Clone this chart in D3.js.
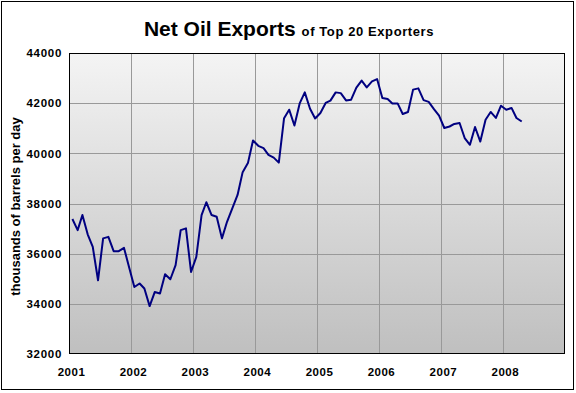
<!DOCTYPE html>
<html>
<head>
<meta charset="utf-8">
<script src="https://cdn.jsdelivr.net/npm/d3@7"></script>
<style>
  html, body { margin: 0; padding: 0; background: #fff; }
  svg { display: block; }
  text { font-family: "Liberation Sans", Arial, sans-serif; font-weight: bold; fill: #000; }
</style>
</head>
<body>
<svg id="chart" width="576" height="393"></svg>
<script>
// ---- data (monthly, Jan 2001 .. Apr 2008), thousands of barrels per day ----
const startYear = 2001;
const values2001 = [37380, 36940, 37540, 36770, 36270, 34940, 36610, 36670, 36100, 36100, 36230, 35460];
const values2002 = [34670, 34810, 34610, 33910, 34470, 34410, 35180, 34980, 35540, 36940, 37010, 35270];
const values2003 = [35870, 37540, 38050, 37540, 37470, 36610, 37270, 37810, 38340, 39250, 39610, 40510];
const values2004 = [40300, 40210, 39940, 39830, 39630, 41400, 41740, 41110, 41990, 42430, 41780, 41390];
const values2005 = [41610, 42010, 42100, 42430, 42400, 42110, 42140, 42620, 42900, 42630, 42870, 42960];
const values2006 = [42210, 42170, 41990, 41990, 41570, 41650, 42540, 42590, 42120, 42050, 41760, 41500];
const values2007 = [41010, 41070, 41170, 41210, 40610, 40340, 41050, 40470, 41340, 41650, 41410, 41900];
const values2008 = [41740, 41810, 41410, 41270];
const yTicks = [32000, 34000, 36000, 38000, 40000, 42000, 44000];
const yearLabels = ["2001", "2002", "2003", "2004", "2005", "2006", "2007", "2008"];
const titleMain = "Net Oil Exports";
const titleSub = "of Top 20 Exporters";
const yTitle = "thousands of barrels per day";

const allValues = [].concat(values2001, values2002, values2003, values2004,
                            values2005, values2006, values2007, values2008);
const series = allValues.map((v, i) => ({ date: new Date(startYear, i, 21), value: v }));

// ---- layout ----
const svg = d3.select("#chart");
const L = 69, R = 565, T = 53, B = 354;

const x = d3.scaleTime()
  .domain([new Date(2001, 0, 1), new Date(2009, 0, 1)])
  .range([L, R]);
const y = d3.scaleLinear().domain([32000, 44000]).range([B, T]);

// outer border
svg.append("rect")
  .attr("x", 1.5).attr("y", 1.5).attr("width", 572).attr("height", 388)
  .attr("fill", "#fff").attr("stroke", "#000").attr("stroke-width", 1);

// gradient for plot area
const defs = svg.append("defs");
const grad = defs.append("linearGradient").attr("id", "bg")
  .attr("x1", 0).attr("y1", 0).attr("x2", 0).attr("y2", 1);
grad.append("stop").attr("offset", "0%").attr("stop-color", "#f4f4f4");
grad.append("stop").attr("offset", "100%").attr("stop-color", "#bfbfbf");

svg.append("rect")
  .attr("x", L).attr("y", T).attr("width", R - L).attr("height", B - T)
  .attr("fill", "url(#bg)");

// gridlines
const yearDates = yearLabels.map(s => new Date(+s, 0, 1));
svg.append("g").selectAll("line").data(yearDates.slice(1)).join("line")
  .attr("x1", d => Math.round(x(d)) + 0.5).attr("x2", d => Math.round(x(d)) + 0.5)
  .attr("y1", T).attr("y2", B)
  .attr("stroke", "#999").attr("stroke-width", 1);
svg.append("g").selectAll("line").data(yTicks.slice(1, -1)).join("line")
  .attr("x1", L).attr("x2", R)
  .attr("y1", d => Math.round(y(d)) + 0.5).attr("y2", d => Math.round(y(d)) + 0.5)
  .attr("stroke", "#999").attr("stroke-width", 1);

// plot border
svg.append("rect")
  .attr("x", L + 0.5).attr("y", T + 0.5).attr("width", R - L - 1).attr("height", B - T - 1)
  .attr("fill", "none").attr("stroke", "#000").attr("stroke-width", 1);

// y-axis labels
const yAxis = d3.axisLeft(y).tickValues(yTicks).tickSize(0).tickPadding(7).tickFormat(d3.format("d"));
const gy = svg.append("g").attr("transform", `translate(${L},0)`).call(yAxis);
gy.select(".domain").remove();
gy.selectAll("text")
  .style("font-family", '"Liberation Sans", Arial, sans-serif')
  .style("font-weight", "bold").style("font-size", "11.5px")
  .style("letter-spacing", "0.7px").attr("fill", "#000");

// x-axis labels
const xAxis = d3.axisBottom(x).tickValues(yearDates).tickSize(0).tickPadding(14)
  .tickFormat(d3.timeFormat("%Y"));
const gx = svg.append("g").attr("transform", `translate(2,${B})`).call(xAxis);
gx.select(".domain").remove();
gx.selectAll("text")
  .style("font-family", '"Liberation Sans", Arial, sans-serif')
  .style("font-weight", "bold").style("font-size", "11.5px")
  .style("letter-spacing", "0.5px").attr("fill", "#000");

// data line
const line = d3.line().x(d => x(d.date)).y(d => y(d.value));
svg.append("path").datum(series)
  .attr("d", line)
  .attr("fill", "none").attr("stroke", "#000080").attr("stroke-width", 2)
  .attr("stroke-linejoin", "round");

// title
const title = svg.append("text").attr("x", 289).attr("y", 36).attr("text-anchor", "middle");
title.append("tspan").style("font-size", "21px").text(titleMain);
title.append("tspan").style("font-size", "13px").attr("dx", 6).style("letter-spacing", "0.6px").text(titleSub);

// y title
svg.append("text")
  .attr("transform", `translate(20,${(T + B) / 2 + 3}) rotate(-90)`)
  .attr("text-anchor", "middle")
  .style("font-size", "13px")
  .text(yTitle);
</script>
</body>
</html>
